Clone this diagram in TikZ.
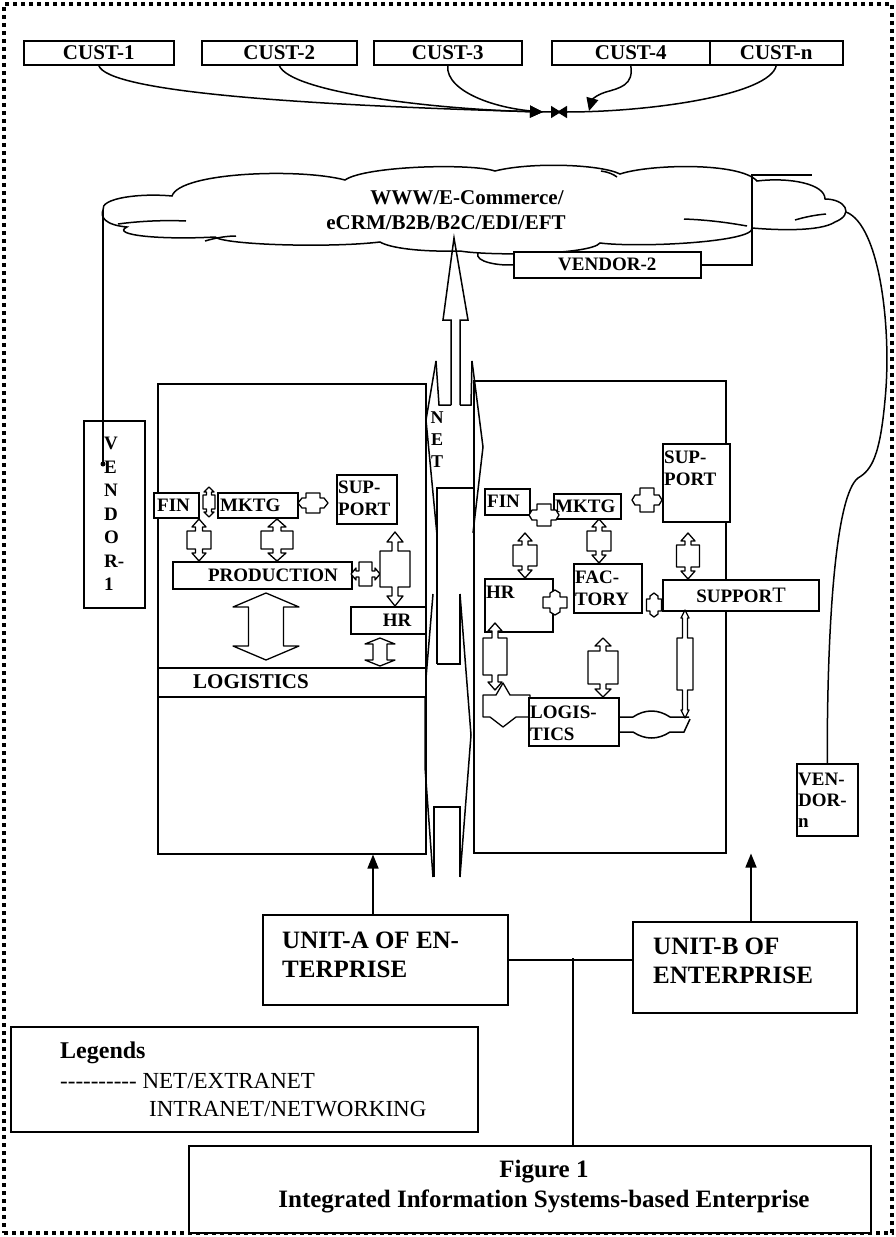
\documentclass[tikz,border=0pt]{standalone}
\usepackage{fontspec}
\setmainfont{Liberation Serif}
\usetikzlibrary{arrows.meta,calc}
\newcommand{\vcall}[8]{\draw[blk] (#1,#2) -- ({#1+#5},{#2+#7}) -- ({#1+#6},{#2+#7}) -- ({#1+#6},{#2+#7+#8}) -- ({#1+#4},{#2+#7+#8}) -- ({#1+#4},{#3-#7-#8}) -- ({#1+#6},{#3-#7-#8}) -- ({#1+#6},{#3-#7}) -- ({#1+#5},{#3-#7}) -- (#1,#3) -- ({#1-#5},{#3-#7}) -- ({#1-#6},{#3-#7}) -- ({#1-#6},{#3-#7-#8}) -- ({#1-#4},{#3-#7-#8}) -- ({#1-#4},{#2+#7+#8}) -- ({#1-#6},{#2+#7+#8}) -- ({#1-#6},{#2+#7}) -- ({#1-#5},{#2+#7}) -- cycle;}
\newcommand{\hcall}[8]{\draw[blk] (#2,#1) -- ({#2+#7},{#1-#5}) -- ({#2+#7},{#1-#6}) -- ({#2+#7+#8},{#1-#6}) -- ({#2+#7+#8},{#1-#4}) -- ({#3-#7-#8},{#1-#4}) -- ({#3-#7-#8},{#1-#6}) -- ({#3-#7},{#1-#6}) -- ({#3-#7},{#1-#5}) -- (#3,#1) -- ({#3-#7},{#1+#5}) -- ({#3-#7},{#1+#6}) -- ({#3-#7-#8},{#1+#6}) -- ({#3-#7-#8},{#1+#4}) -- ({#2+#7+#8},{#1+#4}) -- ({#2+#7+#8},{#1+#6}) -- ({#2+#7},{#1+#6}) -- ({#2+#7},{#1+#5}) -- cycle;}
\newcommand{\hy}{-\kern0pt}
\tikzset{
  ln/.style={line width=1.5pt},
  bx/.style={draw, fill=white, line width=1.5pt, inner sep=0pt, anchor=north west},
  blk/.style={draw, fill=white, line width=1.3pt, line join=round},
  txt/.style={inner sep=0pt, font=\bfseries\fontsize{19}{22}\selectfont, align=left},
  ctxt/.style={inner sep=0pt, font=\bfseries\fontsize{21}{21}\selectfont},
  tip/.style={-{Triangle[length=13pt,width=12pt]}},
}
\begin{document}
\begin{tikzpicture}[x=1pt,y=-1pt]
\fill[white] (0,0) rectangle (896,1237);
\useasboundingbox (0,0) rectangle (896,1237);
% frame
\node[draw, line width=3.5pt, dash pattern=on 4pt off 4pt, minimum width=888pt, minimum height=1229pt, inner sep=0pt] (frame) at (448,618.5) {};
% customers
\node[bx, minimum width=150pt, minimum height=24pt, font=\bfseries\fontsize{21}{21}\selectfont] (c1) at (23,40) {CUST-1};
\node[bx, minimum width=155pt, minimum height=24pt, font=\bfseries\fontsize{21}{21}\selectfont] (c2) at (201,40) {CUST-2};
\node[bx, minimum width=148pt, minimum height=24pt, font=\bfseries\fontsize{21}{21}\selectfont] (c3) at (373,40) {CUST-3};
\node[bx, minimum width=158pt, minimum height=24pt, font=\bfseries\fontsize{21}{21}\selectfont] (c4) at (551,40) {CUST-4};
\node[bx, minimum width=133pt, minimum height=24pt, font=\bfseries\fontsize{21}{21}\selectfont] (c5) at (709,40) {CUST-n};
\coordinate (m1) at (543,112);
\coordinate (m2) at (561,112);
\coordinate (m3) at (557,112);
\coordinate (m4) at (589,111);
\draw[ln, tip] (c1.south) .. controls (108,92) and (300,105) .. (m1);
\draw[ln, tip] (c2.south) .. controls (290,92) and (430,109) .. (m1);
\draw[ln, -{Triangle[length=10pt,width=12pt]}] (c3.south) .. controls (445,92) and (500,112) .. (m2);
\draw[ln, -{Triangle[length=10pt,width=12pt]}] (c5.south) .. controls (770,95) and (650,112) .. (m3);
\draw[ln, tip] (c4.south) .. controls (634,85) and (620,88) .. (606,92) .. controls (596,95) and (592,100) .. (m4);
% cloud
\draw[ln, fill=white] (103,210) .. controls (100,198) and (140,193) .. (172,196)
  .. controls (180,172) and (300,168) .. (345,180)
  .. controls (365,166) and (470,163) .. (495,171)
  .. controls (530,162) and (600,164) .. (620,174)
  .. controls (650,164) and (740,162) .. (757,181)
  .. controls (790,177) and (825,184) .. (825,199)
  .. controls (845,199) and (855,214) .. (835,222)
  .. controls (820,232) and (775,230) .. (752,228)
  .. controls (755,242) and (640,248) .. (600,243)
  .. controls (590,255) and (490,256) .. (460,251)
  .. controls (420,252) and (390,248) .. (380,242)
  .. controls (330,248) and (225,245) .. (215,237)
  .. controls (160,240) and (110,235) .. (127,227)
  .. controls (105,225) and (100,217) .. (103,210) -- cycle;
\draw[ln] (118,224) .. controls (140,221) and (165,220) .. (186,221);
\draw[ln] (684,219) .. controls (710,220) and (730,223) .. (747,226);
\draw[ln] (795,220) .. controls (805,217) and (815,215) .. (826,214);
\draw[ln] (205,241) .. controls (215,238) and (226,236) .. (236,236);
\draw[ln] (601,171) .. controls (608,172) and (613,174) .. (617,177);
\node[ctxt] (w1) at (467,198) {WWW/E-Commerce/};
\node[ctxt] (w2) at (446,223) {eCRM/B2B/B2C/EDI/EFT};
\coordinate (cl1) at (103,210);
\coordinate (cl2) at (846,212);
% vendor 2
\node[bx, minimum width=187pt, minimum height=26pt, font=\bfseries\fontsize{19}{19}\selectfont] (v2) at (513,251) {VENDOR-2};
\draw[ln] (478,253) .. controls (474,262) and (500,266) .. (v2.west);
\coordinate (v2c) at (752,175);
\coordinate (v2e) at (812,175);
\draw[ln] (v2.east) -| (v2c) -- (v2e);
% NET arrow and band
\draw[ln] (451,405) -- (451,320) -- (443,320) -- (454,238) -- (468,320) -- (460,320) -- (460,405);
\draw[ln] (436,361) -- (426,420) -- (437,535);
\draw[ln] (436,361) -- (439,405) -- (451,405);
\draw[ln] (472,361) -- (483,447) -- (473,533);
\draw[ln] (472,361) -- (471,405) -- (460,405);
\draw[ln] (437,664) -- (437,488) -- (473,488);
\draw[ln] (437,664) -- (460,664) -- (460,594);
\draw[ln] (433,594) -- (425,690) -- (425,767) -- (433,877);
\draw[ln] (460,594) -- (471,735) -- (460,877);
\draw[ln] (434,877) -- (434,807) -- (460,807) -- (460,877);
\node[inner sep=0pt, font=\bfseries\fontsize{18}{22}\selectfont, align=center] (net) at (437,440) {N\\E\\T};
% units
\node[draw, line width=1.5pt, minimum width=268pt, minimum height=470pt, anchor=north west, inner sep=0pt] (lu) at (157,383) {};
\node[draw, line width=1.5pt, minimum width=252pt, minimum height=472pt, anchor=north west, inner sep=0pt] (ru) at (473,380) {};
% vendor 1
\node[bx, minimum width=61pt, minimum height=187pt] (v1) at (83,420) {};
\node[txt, anchor=north west, font=\bfseries\fontsize{19}{23.5}\selectfont] (v1t) at (104,437) {V\\E\\N\\D\\O\\R-\\1};
\coordinate (v1dot) at (103,464);
\draw[ln] (cl1) -- (v1dot);
\fill (v1dot) circle (2.5pt);
% vendor n
\node[bx, minimum width=61pt, minimum height=72pt] (vn) at (796,763) {};
\node[txt, anchor=north west, font=\bfseries\fontsize{19}{21}\selectfont] at ([xshift=2pt,yshift=-10pt]vn.north west) {VEN-\\DOR-\\n};
\draw[ln] (cl2) .. controls (880,225) and (892,330) .. (885,400) .. controls (880,455) and (872,470) .. (858,478) .. controls (836,495) and (827,620) .. (vn.north);
% left unit contents
\node[bx, minimum width=268pt, minimum height=29pt] (llog) at (157,667) {};
\node[ctxt] at (251,682) {LOGISTICS};
\node[bx, minimum width=45pt, minimum height=25pt] (lfin) at (153,492) {};
\node[txt, anchor=west] at ([xshift=4pt]lfin.west) {FIN};
\node[bx, minimum width=80pt, minimum height=25pt] (lmk) at (217,492) {};
\node[txt, anchor=west] at ([xshift=3pt]lmk.west) {MKTG};
\node[bx, minimum width=60pt, minimum height=49pt] (lsup) at (336,474) {};
\node[txt, anchor=north west] at ([xshift=2pt,yshift=-7pt]lsup.north west) {SUP-\\PORT};
\node[bx, minimum width=179pt, minimum height=27pt] (lprod) at (172,561) {};
\node[txt] at (273,575) {PRODUCTION};
\node[bx, minimum width=75pt, minimum height=27pt] (lhr) at (350,606) {};
\node[txt] at (397,620) {HR};
\vcall{209}{487}{517}{6}{5}{2.5}{5}{3}
\hcall{503}{298}{328}{10}{5}{5}{4}{4}
\vcall{199}{519}{561}{12}{7}{3.5}{8}{4}
\vcall{277}{519}{561}{16}{9}{4}{8}{4}
\hcall{574}{351}{380}{12}{6}{3}{5}{3}
\vcall{395}{532}{606}{15}{8}{3}{10}{9}
\vcall{266}{593}{660}{17.5}{33}{17.5}{14}{0}
\vcall{380}{638}{666}{7}{15}{7}{6}{0}
% right unit contents
\draw[blk] (483,695) -- (496,695) -- (503,683) -- (510,695) -- (530,695) -- (530,717) -- (516,717) -- (503,727) -- (490,717) -- (483,717) -- cycle;
\node[bx, minimum width=45pt, minimum height=26pt] (rfin) at (484,488) {};
\node[txt, anchor=west] at ([xshift=3pt]rfin.west) {FIN};
\node[bx, minimum width=67pt, minimum height=25pt] (rmk) at (553,493) {};
\node[txt, anchor=west] at ([xshift=2pt]rmk.west) {MKTG};
\node[bx, minimum width=67pt, minimum height=78pt] (rsup) at (662,443) {};
\node[txt, anchor=north west] at ([xshift=2pt,yshift=-8pt]rsup.north west) {SUP-\\PORT};
\node[bx, minimum width=68pt, minimum height=53pt] (rhr) at (484,578) {};
\node[txt, anchor=north west] at ([xshift=2pt,yshift=-8pt]rhr.north west) {HR};
\node[bx, minimum width=68pt, minimum height=49pt] (rfac) at (573,563) {};
\node[txt, anchor=north west] at ([xshift=2pt,yshift=-8pt]rfac.north west) {FAC-\\TORY};
\node[bx, minimum width=156pt, minimum height=31pt] (rspt) at (662,579) {};
\node[txt] at (741,595) {SUPPOR{\mdseries\fontsize{22}{22}\selectfont T}};
\node[bx, minimum width=90pt, minimum height=48pt] (rlog) at (528,697) {};
\node[txt, anchor=north west] at ([xshift=2pt,yshift=-9pt]rlog.north west) {LOGIS-\\TICS};
\hcall{515}{529}{559}{11}{5}{5}{3}{5}
\hcall{500}{632}{662}{12}{5}{5}{3}{5}
\vcall{525}{533}{578}{12}{7}{3}{8}{4}
\vcall{599}{519}{563}{12}{7}{3}{8}{4}
\vcall{688}{533}{579}{11.5}{7}{3}{8}{4}
\vcall{555}{590}{615}{12}{5}{5}{3}{4}
\vcall{654}{593}{617}{7.5}{4}{4}{3}{3}
\vcall{495}{623}{690}{12}{7}{3}{8}{7}
\vcall{603}{638}{697}{15}{8}{3}{8}{5}
\vcall{685}{610}{718}{8}{4}{2.5}{8}{20}
\draw[ln] (rlog.east |- 0,717) -- (633,717) .. controls (645,709) and (658,709) .. (670,717) -- (689,717);
\draw[ln] (rlog.east |- 0,732) -- (633,732) .. controls (645,740) and (658,740) .. (670,732) -- (684,732) -- (690,719);
% bottom
\node[bx, minimum width=245pt, minimum height=90pt] (ua) at (262,914) {};
\node[txt, anchor=north west, font=\bfseries\fontsize{25}{29}\selectfont] at ([xshift=20pt,yshift=-18pt]ua.north west) {UNIT-A OF EN-\\TERPRISE};
\node[bx, minimum width=224pt, minimum height=91pt] (ub) at (632,921) {};
\node[txt, anchor=north west, font=\bfseries\fontsize{25}{29}\selectfont] at ([xshift=21pt,yshift=-17pt]ub.north west) {UNIT-B OF\\ENTERPRISE};
\coordinate (xa) at (373,0);
\coordinate (xb) at (751,0);
\draw[ln, -{Triangle[length=14pt,width=11pt]}] (ua.north -| xa) -- (lu.south -| xa);
\draw[ln, -{Triangle[length=14pt,width=11pt]}] (ub.north -| xb) -- (ru.south -| xb);
\coordinate (jn) at (573,958);
\draw[ln] (ua.east) -- (ua.east -| ub.west);
\node[bx, minimum width=467pt, minimum height=105pt] (lg) at (10,1026) {};
\node[inner sep=0pt, anchor=west, font=\bfseries\fontsize{24}{24}\selectfont] (lgt) at (60,1053) {Legends};
\node[inner sep=0pt, anchor=west, font=\fontsize{23}{23}\selectfont] (lg1) at (60,1081) {\hy\hy\hy\hy\hy\hy\hy\hy\hy\hy\ NET/EXTRANET};
\node[inner sep=0pt, anchor=west, font=\fontsize{23}{23}\selectfont] (lg2) at (149,1109) {INTRANET/NETWORKING};
\node[bx, minimum width=682pt, minimum height=87pt] (fig) at (188,1145) {};
\draw[ln] (jn) -- (jn |- fig.north);
\node[inner sep=0pt, font=\bfseries\fontsize{25}{25}\selectfont] (f1) at (544,1172) {Figure 1};
\node[inner sep=0pt, font=\bfseries\fontsize{25}{25}\selectfont] (f2) at (544,1201) {Integrated Information Systems-based Enterprise};
\end{tikzpicture}
\end{document}
